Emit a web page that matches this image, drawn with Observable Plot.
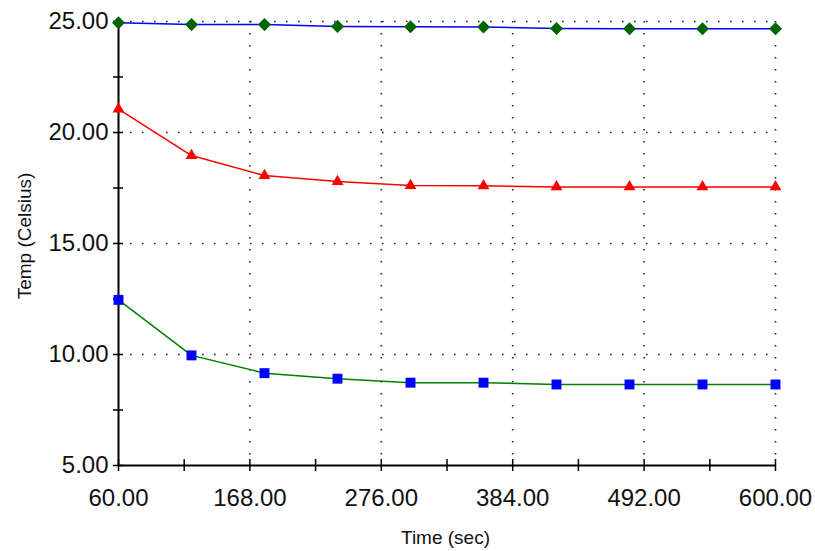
<!DOCTYPE html>
<html>
<head>
<meta charset="utf-8">
<script src="https://cdn.jsdelivr.net/npm/d3@7"></script>
<script src="https://cdn.jsdelivr.net/npm/@observablehq/plot@0.6"></script>
<style>
  html, body { margin: 0; padding: 0; background: #fff; }
  #chart svg { display: block; }
</style>
</head>
<body>
<div id="chart"></div>
<script>
// Sample times (seconds)
const time = [60, 120, 180, 240, 300, 360, 420, 480, 540, 600];

// Temperature readings (°C) for the three probes
const probeTop = [24.94, 24.86, 24.86, 24.78, 24.76, 24.75, 24.68, 24.67, 24.67, 24.67];
const probeMid = [21.05, 18.96, 18.06, 17.79, 17.61, 17.60, 17.55, 17.55, 17.55, 17.55];
const probeLow = [12.46, 9.96, 9.16, 8.91, 8.73, 8.73, 8.65, 8.65, 8.65, 8.65];

// Axis ticks
const xTicks = [60, 168, 276, 384, 492, 600];
const xMinor = [114, 222, 330, 438, 546];
const yTicks = [5, 10, 15, 20, 25];
const yMinor = [7.5, 12.5, 17.5, 22.5];

const rows = (vals) => time.map((t, i) => ({t, v: vals[i]}));
const topRows = rows(probeTop), midRows = rows(probeMid), lowRows = rows(probeLow);

const fmt = (d) => d.toFixed(2);
const font = "Liberation Sans, Arial, sans-serif";
const dotted = {stroke: "#222", strokeWidth: 1.6, strokeDasharray: "1.6,10.4"};
const titleStyle = {fontSize: 19, fill: "#111", textAnchor: "middle", lineAnchor: "middle", letterSpacing: 1};

const chart = Plot.plot({
  width: 815,
  height: 551,
  marginTop: 21,
  marginRight: 40,
  marginBottom: 86,
  marginLeft: 118,
  style: {fontFamily: font, background: "#fff", color: "#111"},
  x: {domain: [60, 600], axis: null},
  y: {domain: [5, 25], axis: null},
  marks: [
    // dotted grid
    Plot.ruleX(xTicks.filter(d => d !== 60), dotted),
    Plot.ruleY(yTicks.filter(d => d !== 5), dotted),
    // axis lines
    Plot.ruleX([60], {stroke: "#000", strokeWidth: 2}),
    Plot.ruleY([5], {stroke: "#000", strokeWidth: 2}),
    // tick marks crossing the axes
    Plot.ruleX([...xTicks, ...xMinor], {y1: 5, y2: 5, insetTop: -6, insetBottom: -6, stroke: "#000", strokeWidth: 1.5}),
    Plot.ruleY([...yTicks, ...yMinor], {x1: 60, x2: 60, insetLeft: -5, insetRight: -5, stroke: "#000", strokeWidth: 1.5}),
    // tick labels
    Plot.text(xTicks, {x: d => d, y: 5, text: fmt, dy: 33, fontSize: 24, fill: "#111"}),
    Plot.text(yTicks, {x: 60, y: d => d, text: fmt, dx: -10, textAnchor: "end", fontSize: 24, fill: "#111"}),
    // axis titles
    Plot.text(["Time (sec)"], {frameAnchor: "bottom", dy: 72, dx: -1.5, ...titleStyle}),
    Plot.text(["Temp (Celsius)"], {frameAnchor: "left", rotate: -90, dx: -94, dy: -7.5, ...titleStyle}),
    // series lines
    Plot.line(topRows, {x: "t", y: "v", stroke: "#0000ff", strokeWidth: 1.5}),
    Plot.line(midRows, {x: "t", y: "v", stroke: "#ff0000", strokeWidth: 1.5}),
    Plot.line(lowRows, {x: "t", y: "v", stroke: "#008000", strokeWidth: 1.5}),
    // markers
    Plot.dot(topRows, {x: "t", y: "v", symbol: "square", rotate: 45, r: 5.2, fill: "#006400", stroke: "none"}),
    Plot.dot(midRows, {x: "t", y: "v", symbol: "triangle", r: 4.4, fill: "#ff0000", stroke: "none"}),
    Plot.dot(lowRows, {x: "t", y: "v", symbol: "square", r: 5.6, fill: "#0000ff", stroke: "none"})
  ]
});

document.getElementById("chart").appendChild(chart);
</script>
</body>
</html>
